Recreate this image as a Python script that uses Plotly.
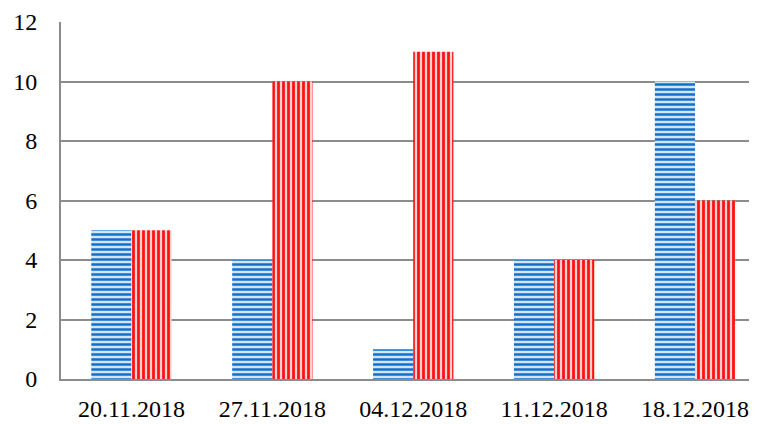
import plotly.graph_objects as go

# данные
dates = ['20.11.2018', '27.11.2018', '04.12.2018', '11.12.2018', '18.12.2018']
series_blue = [5, 4, 1, 4, 10]
series_red = [5, 10, 11, 4, 6]

fig = go.Figure()

fig.add_trace(go.Bar(
    x=dates, y=series_blue, name='blue',
    marker=dict(color='#d2e4f5', line=dict(width=0),
                pattern=dict(shape='-', fgcolor='#1170cc', bgcolor='#d2e4f5',
                             fgopacity=1, size=5, solidity=0.5)),
))
fig.add_trace(go.Bar(
    x=dates, y=series_red, name='red',
    marker=dict(color='#ffd2d2', line=dict(width=0),
                pattern=dict(shape='|', fgcolor='#ff1010', bgcolor='#ffd2d2',
                             fgopacity=1, size=5, solidity=0.55)),
))

# страница имеет отступ 8px, поэтому фигура чуть меньше окна
fig.update_layout(
    width=749, height=416,
    margin=dict(l=53, r=0, t=14, b=45),
    paper_bgcolor='white', plot_bgcolor='white',
    barmode='group', bargap=0.43, bargroupgap=0,
    showlegend=False,
    font=dict(family='Times New Roman', size=24, color='black'),
)
# диаграмма обрезана справа, как в оригинале
fig.update_xaxes(
    range=[-0.5, 4.44],
    showline=True, linecolor='#8c8c8c', linewidth=2,
    showgrid=False, ticks='', ticklabelstandoff=7,
)
fig.update_yaxes(
    range=[0, 12], dtick=2,
    showline=True, linecolor='#8c8c8c', linewidth=2,
    showgrid=True, gridcolor='#8c8c8c', gridwidth=1.5,
    zeroline=False, ticks='', ticklabelstandoff=17,
)

fig.write_html("out.html")
